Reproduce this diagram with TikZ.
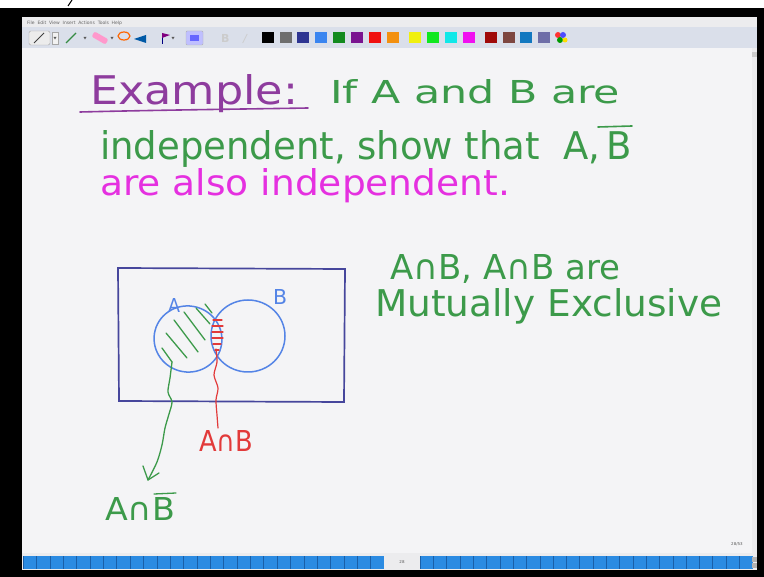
\documentclass[tikz,border=0pt]{standalone}
\usepackage{fontspec}
\setmainfont{DejaVu Sans}
\usepackage{graphicx}
\definecolor{hwgreen}{HTML}{3C9A4A}
\definecolor{hwpurple}{HTML}{8E3C9E}
\definecolor{hwmag}{HTML}{E530E0}
\definecolor{hwblue}{HTML}{5484E6}
\definecolor{hwnavy}{HTML}{46469C}
\definecolor{hwred}{HTML}{E23A3A}
\definecolor{pagebg}{HTML}{F4F4F6}
\definecolor{menubg}{HTML}{ECECEE}
\definecolor{toolbg}{HTML}{DADFEA}
\definecolor{barblue}{HTML}{2B8BE2}
\definecolor{bardark}{HTML}{1A5FA8}
\newcommand{\hw}[3]{\resizebox{#1}{#2}{\fontsize{24}{26}\selectfont #3}}
\tikzset{
  txt/.style={inner sep=0pt, anchor=base west},
  pen/.style={line width=1.6pt, line cap=round, line join=round},
}
\begin{document}
\begin{tikzpicture}[x=1pt,y=-1pt]
\useasboundingbox (0,0) rectangle (764,577);
% frame
\fill[white] (0,0) rectangle (764,8);
\fill[black] (0,8) rectangle (764,577);
\draw[line width=1pt] (68,6) -- (72,0);
% menu bar
\fill[menubg] (22,17) rectangle (757,27);
\node[txt, font=\fontsize{4.5}{5}\selectfont, text=gray!80!black] (menu) at (27,24.5) {File\ \ Edit\ \ View\ \ Insert\ \ Actions\ \ Tools\ \ Help};
% toolbar
\fill[toolbg] (22,27) rectangle (757,48);
\draw[gray!60] (22,48) -- (757,48);
\draw[gray!70, rounded corners=1.5pt, fill=gray!15] (29,31) rectangle (50,45);
\draw[gray!50!black, line width=0.8pt] (34,43) -- (44,33);
\draw[gray!70, fill=gray!10] (52,32) rectangle (58,44);
\fill[gray!70!black] (53.5,37) -- (56.5,37) -- (55,39.5) -- cycle;
\draw[hwgreen!90!black, line width=1.3pt] (66,43) -- (76,33);
\fill[gray!70!black] (83.5,37) -- (86.5,37) -- (85,39.5) -- cycle;
\fill[pink!80!magenta, rounded corners=2pt, rotate around={-30:(100,38)}] (92,35) rectangle (108,41);
\fill[gray!70!black] (110.5,37) -- (113.5,37) -- (112,39.5) -- cycle;
\draw[orange!80!red, line width=1.2pt] (124,36) ellipse (6 and 4);
\fill[teal!70!blue] (134,39) -- (146,35) -- (146,43) -- cycle;
\draw[blue!50!black, line width=1pt] (162,44) -- (162,33);
\fill[violet] (162,33) -- (170,35) -- (162,38) -- cycle;
\fill[gray!70!black] (171.5,37) -- (174.5,37) -- (173,39.5) -- cycle;
\draw[gray!60, fill=blue!25, rounded corners=1pt] (186,31) rectangle (203,45);
\fill[blue!60] (190,35) rectangle (199,41);
\node[txt, font=\bfseries\fontsize{11}{12}\selectfont, text=gray!40] (boldB) at (221,43) {B};
\node[txt, font=\itshape\fontsize{11}{12}\selectfont, text=gray!40] (italI) at (243,43) {/};
\foreach \xx/\cc in {262/000000,280/6E6E6E,297/2E3592,315/3A85F0,333/128A1E,351/7A1490,369/F01010,387/F39010,409/F0F010,427/10E820,445/10E8E8,463/F010F0,485/A00A0A,503/7D4640,520/1278C0,538/6E6EA8}{
  \definecolor{sw}{HTML}{\cc}
  \fill[sw] (\xx,32) rectangle ++(11.5,11.5);
}
\fill[red!80] (558,35) circle (3);
\fill[blue!70] (563,35) circle (3);
\fill[green!60!black] (560,40) circle (3);
\fill[yellow!80!orange] (565,40) circle (2.5);
% page
\fill[pagebg] (22,48) rectangle (752,553);
\fill[menubg] (752,48) rectangle (757,553);
\fill[gray!40] (752,52) rectangle (757,57);
% bottom bar
\fill[menubg] (22,553) rectangle (757,570);
\foreach \i in {0,...,26}{
  \fill[barblue] (23+\i*13.37,556) rectangle ++(13.37,13);
  \draw[bardark, line width=0.4pt] (23+\i*13.37,556) -- ++(0,13);
}
\foreach \i in {0,...,24}{
  \fill[barblue] (420+\i*13.3,556) rectangle ++(13.3,13);
  \draw[bardark, line width=0.4pt] (420+\i*13.3,556) -- ++(0,13);
}
\node[font=\fontsize{4}{4}\selectfont, text=gray!70!black] (pgnum) at (402,562.5) {28};
\node[font=\fontsize{4}{4}\selectfont, text=gray!70!black] (pgcount) at (737,544) {28/53};
\fill[gray!60] (752,557) rectangle (757,562);
\fill[gray!60] (752,563) rectangle (757,568);
% ----- handwriting -----
\node[txt, text=hwpurple] (example) at (90,105) {\hw{208pt}{30pt}{Example:}};
\draw[pen, hwpurple] (80,112) .. controls (160,110) and (250,109) .. (308,108);
\node[txt, text=hwgreen] (line1) at (330,104) {\hw{290pt}{24pt}{If\ A\ and\ B\ are}};
\node[txt, text=hwgreen] (line2) at (100,160) {\hw{532pt}{29pt}{independent,\ show\ that\ \ A,\,B}};
\draw[pen, hwgreen] (598,127) -- (632,126);
\node[txt, text=hwmag] (line3) at (100,196) {\hw{410pt}{27pt}{are\ also\ independent.}};
\node[txt, text=hwgreen] (mut1) at (390,280) {\hw{230pt}{25pt}{A∩B,\ A∩B\ are}};
\node[txt, text=hwgreen] (mut2) at (375,317) {\hw{347pt}{28pt}{Mutually\ Exclusive}};
% Venn
\draw[line width=1.7pt, hwnavy] (118,268) -- (345,269) -- (344,402) -- (119,401) -- cycle;
\draw[line width=1.5pt, hwblue, rotate around={-15:(188,339)}] (188,339) ellipse (34 and 33);
\draw[line width=1.5pt, hwblue] (248,336) ellipse (37 and 36);
\node[txt, text=hwblue] (labA) at (168,313) {\hw{12pt}{14pt}{A}};
\node[txt, text=hwblue] (labB) at (273,305) {\hw{14pt}{15pt}{B}};
% green hatching (A minus B)
\begin{scope}[pen, hwgreen, line width=1.3pt]
\draw (196,308) -- (210,324);
\draw (184,312) -- (205,340);
\draw (174,320) -- (198,352);
\draw (166,333) -- (187,358);
\draw (162,348) -- (172,362);
\draw (205,304) -- (212,313);
\end{scope}
% red hatching (A and B)
\begin{scope}[pen, hwred, line width=1.2pt]
\foreach \yy/\xa/\xb in {320/213/222,326/212/223,332/212/223,338/212/223,344/213/221,350/215/219}{
  \draw (\xa,\yy) -- (\xb,\yy);
}
\end{scope}
% wavy arrows
\coordinate (gstart) at (172,362);
\coordinate (gtip) at (148,480);
\node[txt, text=hwgreen] (labAnotB) at (105,521) {\hw{70pt}{23pt}{A∩B}};
\draw[pen, hwgreen, line width=1.3pt] (154,494) -- (176,493);
\draw[pen, hwgreen, line width=1.3pt] plot[smooth] coordinates {(gstart) (170,378) (168,392) (172,402) (169,414) (165,428) (162,445) (157,462) (gtip)};
\draw[pen, hwgreen, line width=1.3pt] (143,466) -- (gtip) -- (159,473);
\coordinate (rstart) at (216,349);
\coordinate (rend) at (218,428);
\node[txt, text=hwred] (labAB) at (199,452) {\hw{54pt}{21pt}{A∩B}};
\draw[pen, hwred, line width=1.2pt] plot[smooth] coordinates {(rstart) (217,362) (214,375) (218,388) (216,400) (217,415) (rend)};
\end{tikzpicture}
\end{document}
